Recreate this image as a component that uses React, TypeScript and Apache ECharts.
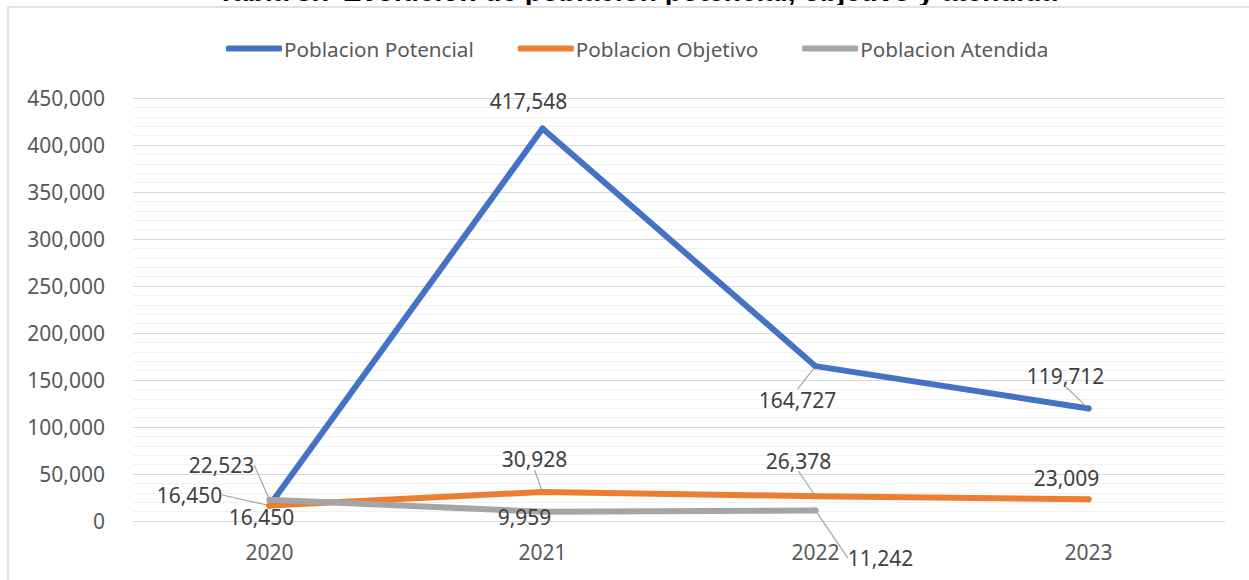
import React, { useEffect, useRef } from "react";
import * as echarts from "echarts";

const TITLE = "Tabla 8.7 Evolución de población potencial, objetivo y atendida";
const CATEGORIES = ["2020", "2021", "2022", "2023"];
const SERIES_NAMES = ["Poblacion Potencial", "Poblacion Objetivo", "Poblacion Atendida"];
const POTENCIAL = [16450, 417548, 164727, 119712];
const OBJETIVO = [16450, 30928, 26378, 23009];
const ATENDIDA: (number | null)[] = [22523, 9959, 11242, null];
const COLORS = ["#4472C4", "#ED7D31", "#A5A5A5"];
const Y_MAX = 450000;
const Y_INTERVAL = 50000;

// label offsets (dx, dy) relative to default "top" placement, and leader line visibility
const LABEL_OFFSETS: number[][][] = [
  [[-80, 8], [-14, -9], [-18, 52], [-23, -14]],
  [[-8, 30], [-8, -14], [-17, -17], [-22, -3]],
  [[-48, -16], [-18, 24], [65, 66], [0, 0]],
];
const LEADER: boolean[][] = [
  [true, false, true, true],
  [false, true, true, false],
  [true, false, true, false],
];

const fmt = (v: number) => v.toLocaleString("en-US");

export default function App() {
  const ref = useRef<HTMLDivElement>(null);
  useEffect(() => {
    if (!ref.current) return;
    const chart = echarts.init(ref.current, undefined, { renderer: "svg" });
    const all = [POTENCIAL, OBJETIVO, ATENDIDA];
    const series = all.map((vals, si) => ({
      name: SERIES_NAMES[si],
      type: "line",
      data: vals.map((v, di) =>
        v == null
          ? null
          : { value: v, labelLine: { show: LEADER[si][di] } }
      ),
      color: COLORS[si],
      lineStyle: { width: 6, color: COLORS[si], cap: "round", join: "round" },
      itemStyle: { color: COLORS[si] },
      symbol: "circle",
      symbolSize: 6,
      showSymbol: true,
      connectNulls: false,
      label: {
        show: true,
        position: "top",
        distance: 5,
        formatter: (p: any) => fmt(p.value),
        color: "#404040",
        fontSize: 21,
        fontFamily: "Noto Sans",
      },
      labelLine: { show: true, lineStyle: { color: "#A6A6A6", width: 1.2 } },
      labelLayout: (params: any) => {
        const o = LABEL_OFFSETS[params.seriesIndex]?.[params.dataIndex] || [0, 0];
        return { dx: o[0], dy: o[1] };
      },
      z: 2 + si,
    }));

    chart.setOption({
      animation: false,
      backgroundColor: "#ffffff",
      graphic: [
        {
          type: "text",
          x: 637,
          y: -23,
          style: {
            text: TITLE,
            font: "bold 28px 'Liberation Sans', Arial, sans-serif",
            fill: "#000000",
            textAlign: "center",
            textVerticalAlign: "top",
          },
          z: 1,
        },
        {
          type: "rect",
          shape: { x: 0, y: 5, width: 1249, height: 2 },
          style: { fill: "#ffffff" },
          z: 2,
        },
        {
          type: "rect",
          shape: { x: 8, y: 7, width: 1300, height: 600 },
          style: { fill: "none", stroke: "#D9D9D9", lineWidth: 1.5 },
          z: 3,
        },
      ],
      legend: {
        top: 33,
        left: 221,
        icon: "roundRect",
        itemWidth: 56,
        itemHeight: 6,
        itemGap: 44,
        textStyle: { color: "#595959", fontSize: 20.7, fontFamily: "Noto Sans", padding: [0, 0, 0, -3] },
        data: SERIES_NAMES,
      },
      grid: { left: 133, right: 24, top: 98, bottom: 59, containLabel: false },
      xAxis: {
        type: "category",
        data: CATEGORIES,
        boundaryGap: true,
        axisLine: { show: false },
        axisTick: { show: false },
        axisLabel: { color: "#595959", fontSize: 21, fontFamily: "Noto Sans", margin: 20 },
        splitLine: { show: false },
      },
      yAxis: {
        type: "value",
        min: 0,
        max: Y_MAX,
        interval: Y_INTERVAL,
        axisLine: { show: false },
        axisTick: { show: false },
        axisLabel: {
          color: "#595959",
          fontSize: 21,
          fontFamily: "Noto Sans",
          margin: 28,
          formatter: (v: number) => fmt(v),
        },
        splitLine: { show: true, lineStyle: { color: "#D9D9D9", width: 1.2 } },
        minorTick: { show: false, splitNumber: 5 },
        minorSplitLine: { show: true, lineStyle: { color: "#F0F0F0", width: 1.2 } },
      },
      series,
    });
    return () => chart.dispose();
  }, []);
  return (
    <div
      ref={ref}
      style={{ position: "absolute", left: 0, top: 0, width: 1249, height: 580 }}
    />
  );
}
